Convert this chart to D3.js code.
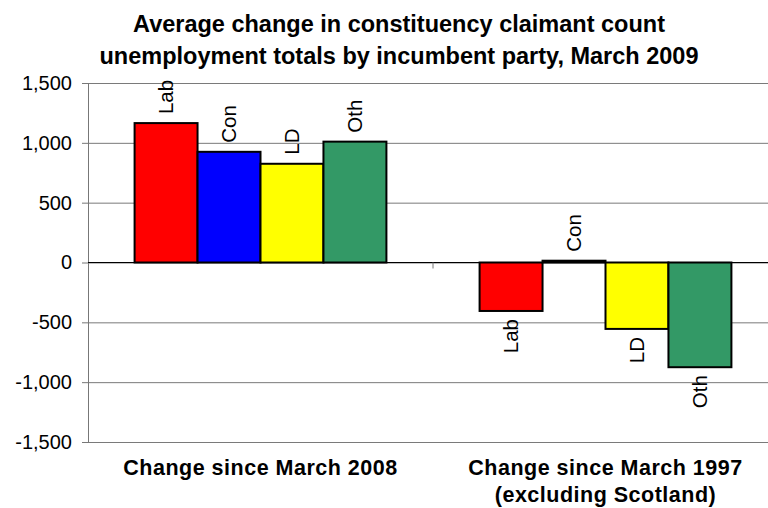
<!DOCTYPE html>
<html>
<head>
<meta charset="utf-8">
<script src="https://cdn.jsdelivr.net/npm/d3@7"></script>
<style>
  body { margin: 0; background: #fff; }
  svg { display: block; font-family: "Liberation Sans", Arial, sans-serif; }
</style>
</head>
<body>
<div id="chart"></div>
<script>
// Chart data
const titleLines = ["Average change in constituency claimant count", "unemployment totals by incumbent party, March 2009"];
const groups = ["Change since March 2008", "Change since March 1997 (excluding Scotland)"];
const groupLabels = [["Change since March 2008"], ["Change since March 1997", "(excluding Scotland)"]];
const parties = ["Lab", "Con", "LD", "Oth"];
const change2008 = [1165, 925, 825, 1010];
const change1997 = [-405, 15, -555, -875];
const yTicks = [-1500, -1000, -500, 0, 500, 1000, 1500];

const seriesByGroup = [change2008, change1997];
const data = groups.map((g, i) => ({
  group: g,
  values: parties.map((p, j) => ({ group: g, party: p, value: seriesByGroup[i][j] }))
}));

// Set chart dimensions
const W = 768, H = 508;
const margin = { top: 83, right: -10, bottom: 66, left: 88 };
const width = W - margin.left - margin.right;
const height = H - margin.top - margin.bottom;

const root = d3.select("#chart")
  .append("svg")
  .attr("width", W)
  .attr("height", H);

// Title
root.append("g")
  .selectAll("text")
  .data(titleLines)
  .join("text")
  .attr("x", 399)
  .attr("y", (d, i) => 32 + i * 31.5)
  .attr("text-anchor", "middle")
  .attr("font-size", "23.5px")
  .attr("font-weight", "bold")
  .attr("fill", "#000")
  .text(d => d);

const svg = root.append("g")
  .attr("transform", "translate(" + margin.left + "," + margin.top + ")");

// Scales
const x0 = d3.scaleBand()
  .domain(groups)
  .range([0, width]);

const x1 = d3.scaleBand()
  .domain(parties)
  .range([0, x0.bandwidth()])
  .paddingInner(0)
  .paddingOuter(0.74);

const y = d3.scaleLinear()
  .domain([-1500, 1500])
  .range([height, 0]);

const color = d3.scaleOrdinal()
  .domain(parties)
  .range(["#ff0000", "#0000ff", "#ffff00", "#339966"]);

// Gridlines
svg.append("g")
  .call(d3.axisLeft(y).tickValues(yTicks).tickSize(-width).tickFormat(""))
  .call(g => g.select(".domain").remove())
  .call(g => g.selectAll(".tick line").attr("stroke", "#7a7a7a"));

// Y axis (hyphen for negatives, like the original)
const fmt = d3.format(",");
svg.append("g")
  .call(d3.axisLeft(y).tickValues(yTicks).tickSize(6).tickSizeOuter(0).tickPadding(10)
    .tickFormat(d => fmt(d).replace("\u2212", "-")))
  .call(g => g.select(".domain").attr("stroke", "#777"))
  .call(g => g.selectAll(".tick line").attr("stroke", "#777"))
  .call(g => g.selectAll(".tick text")
    .attr("font-size", "20px")
    .attr("font-family", "'Liberation Sans', Arial, sans-serif")
    .attr("fill", "#000"));

// Bars
const groupG = svg.selectAll(".grp")
  .data(data)
  .join("g")
  .attr("class", "grp")
  .attr("transform", d => "translate(" + x0(d.group) + ",0)");

groupG.selectAll("rect")
  .data(d => d.values)
  .join("rect")
  .attr("x", d => x1(d.party))
  .attr("y", d => y(Math.max(0, d.value)))
  .attr("width", x1.bandwidth())
  .attr("height", d => Math.abs(y(d.value) - y(0)))
  .attr("fill", d => color(d.party))
  .attr("stroke", "#000")
  .attr("stroke-width", 2);

// Bar labels (rotated)
groupG.selectAll(".lbl")
  .data(d => d.values)
  .join("text")
  .attr("class", "lbl")
  .attr("transform", d => {
    const cx = x1(d.party) + x1.bandwidth() / 2;
    const ty = d.value >= 0 ? y(d.value) - 9 : y(d.value) + 8;
    return "translate(" + cx + "," + ty + ") rotate(-90)";
  })
  .attr("dy", "0.36em")
  .attr("text-anchor", d => d.value >= 0 ? "start" : "end")
  .attr("font-size", "20.5px")
  .attr("fill", "#000")
  .text(d => d.party);

// X axis at zero
svg.append("line")
  .attr("x1", 0)
  .attr("x2", width)
  .attr("y1", y(0))
  .attr("y2", y(0))
  .attr("stroke", "#000");

// Tick marks between categories
svg.append("g")
  .selectAll("line")
  .data(groups.slice(1))
  .join("line")
  .attr("x1", d => x0(d))
  .attr("x2", d => x0(d))
  .attr("y1", y(0))
  .attr("y2", y(0) + 6)
  .attr("stroke", "#777");

// Category labels
svg.selectAll(".cat")
  .data(groups)
  .join("text")
  .attr("class", "cat")
  .attr("x", d => x0(d) + x0.bandwidth() / 2)
  .attr("y", height + 33)
  .attr("text-anchor", "middle")
  .attr("font-size", "21.5px")
  .attr("font-weight", "bold")
  .attr("letter-spacing", "0.5px")
  .attr("fill", "#000")
  .selectAll("tspan")
  .data((d, i) => groupLabels[i])
  .join("tspan")
  .attr("x", function () { return d3.select(this.parentNode).attr("x"); })
  .attr("dy", (d, i) => i === 0 ? 0 : 27)
  .text(d => d);
</script>
</body>
</html>
